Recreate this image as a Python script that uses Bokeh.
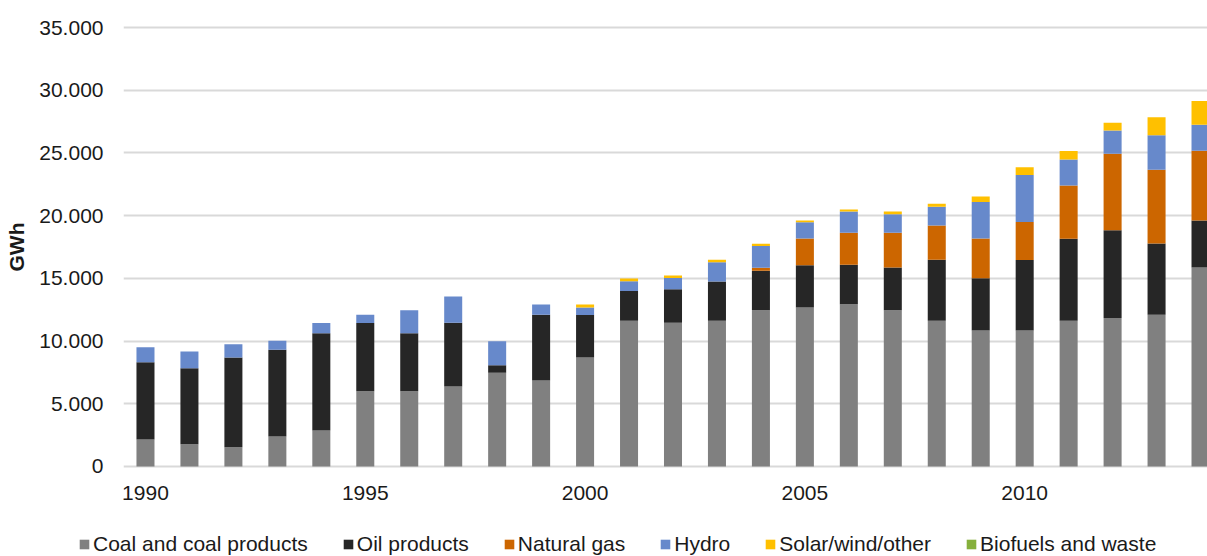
from bokeh.plotting import figure
from bokeh.models import ColumnDataSource, Range1d, FixedTicker, Legend, LegendItem
from bokeh.embed import file_html
from bokeh.resources import INLINE

years = list(range(1990, 2015))
coal = [2150, 1780, 1540, 2390, 2870, 6000, 6000, 6380, 7470, 6860, 8690, 11610, 11460,
        11610, 12460, 12680, 12940, 12460, 11610, 10840, 10840, 11610, 11830, 12090, 15870]
oil = [6170, 6060, 7150, 6910, 7760, 5450, 4630, 5080, 610, 5230, 3380, 2390, 2680,
       3140, 3140, 3370, 3140, 3400, 4870, 4170, 5630, 6540, 7010, 5690, 3750]
gas = [0, 0, 0, 0, 0, 0, 0, 0, 0, 0, 0, 0, 0,
       0, 240, 2130, 2550, 2770, 2740, 3160, 3030, 4250, 6090, 5870, 5560]
hydro = [1190, 1330, 1060, 720, 820, 640, 1830, 2100, 1910, 820, 610, 770, 880,
         1540, 1730, 1300, 1700, 1490, 1490, 2920, 3750, 2070, 1860, 2760, 2070]
solar = [0, 0, 0, 0, 0, 0, 0, 0, 0, 0, 240, 210, 210,
         190, 190, 130, 160, 210, 240, 430, 610, 690, 610, 1440, 1890]
biofuels = [0, 0, 0, 0, 0, 0, 0, 0, 0, 0, 0, 0, 0,
            0, 0, 0, 0, 0, 0, 0, 0, 0, 0, 0, 0]

series = ["coal", "oil", "gas", "hydro", "solar", "biofuels"]
labels = ["Coal and coal products", "Oil products", "Natural gas", "Hydro",
          "Solar/wind/other", "Biofuels and waste"]
colors = ["#808080", "#262626", "#CC6600", "#6789CB", "#FFC000", "#86B03C"]

x_ticks = [1990, 1995, 2000, 2005, 2010]
y_ticks = [0, 5000, 10000, 15000, 20000, 25000, 30000, 35000]

source = ColumnDataSource(dict(year=years, coal=coal, oil=oil, gas=gas,
                               hydro=hydro, solar=solar, biofuels=biofuels))

FONT = "Liberation Sans"
W = 1207
H_MAIN, H_LEG = 510, 46
LEFT, TOP = 123, 24
FRAME_H = 445
BOTTOM = H_MAIN - TOP - FRAME_H
band_px = 43.96
frame_w = W - LEFT

p = figure(width=W, height=H_MAIN, output_backend="svg", toolbar_location=None,
           x_range=Range1d(1989.5, 1989.5 + frame_w / band_px),
           y_range=Range1d(-240, 35240),
           min_border_left=LEFT, min_border_right=0,
           min_border_top=TOP, min_border_bottom=BOTTOM)
p.outline_line_color = None
p.background_fill_color = "white"

p.vbar_stack(series, x="year", width=0.41, source=source, color=colors, line_color=None)

# axes
p.xaxis.ticker = FixedTicker(ticks=x_ticks)
p.xaxis.axis_line_color = None
p.xaxis.major_tick_line_color = None
p.xaxis.minor_tick_line_color = None
p.xaxis.major_label_standoff = 10
p.xaxis.major_label_text_font = FONT
p.xaxis.major_label_text_font_size = "21px"
p.xaxis.major_label_text_color = "#1a1a1a"

p.yaxis.ticker = FixedTicker(ticks=y_ticks)
p.yaxis.major_label_overrides = {t: f"{t:,}".replace(",", ".") for t in y_ticks}
p.yaxis.axis_line_color = None
p.yaxis.major_tick_line_color = None
p.yaxis.minor_tick_line_color = None
p.yaxis.major_tick_out = 0
p.yaxis.major_label_standoff = 20
p.yaxis.major_label_text_font = FONT
p.yaxis.major_label_text_font_size = "21px"
p.yaxis.major_label_text_color = "#1a1a1a"
p.yaxis.axis_label = "GWh"
p.yaxis.axis_label_text_font = FONT
p.yaxis.axis_label_text_font_size = "21px"
p.yaxis.axis_label_text_font_style = "bold"
p.yaxis.axis_label_text_color = "#1a1a1a"
p.yaxis.axis_label_standoff = 8

p.xgrid.grid_line_color = None
p.ygrid.ticker = FixedTicker(ticks=y_ticks)
p.ygrid.grid_line_color = "#D9D9D9"
p.ygrid.grid_line_width = 2

# legend strip (same series, glyphs hidden; only the legend is shown)
q = figure(width=W, height=H_LEG, output_backend="svg", toolbar_location=None,
           x_axis_type=None, y_axis_type=None,
           min_border_left=0, min_border_right=0, min_border_top=0, min_border_bottom=0)
q.outline_line_color = None
legend_renderers = q.vbar_stack(series, x="year", width=0.41, source=source,
                                color=colors, line_color=None)
for r in legend_renderers:
    r.visible = False

leg = Legend(items=[LegendItem(label=l, renderers=[r])
                    for l, r in zip(labels, legend_renderers)],
             orientation="horizontal", location=(78, 0),
             padding=0, margin=0, spacing=34,
             glyph_width=12, glyph_height=12, label_standoff=3,
             label_text_font=FONT, label_text_font_size="21px",
             label_text_color="#1a1a1a",
             border_line_color=None, background_fill_alpha=0)
q.add_layout(leg, "center")

open("out.html", "w").write(file_html([p, q], INLINE))
